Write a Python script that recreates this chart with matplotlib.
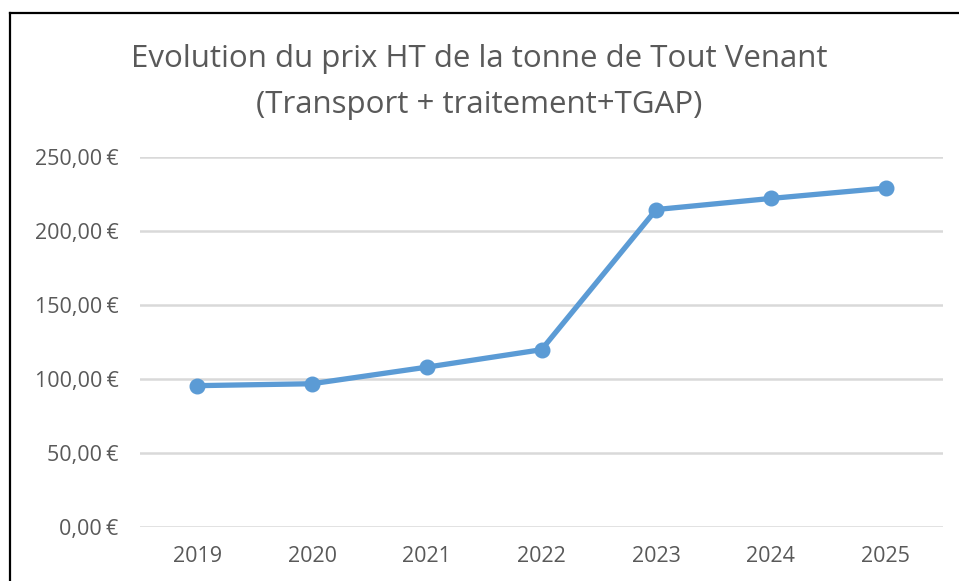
import matplotlib.pyplot as plt
from matplotlib.lines import Line2D
from matplotlib.ticker import FuncFormatter

# data
years = ['2019', '2020', '2021', '2022', '2023', '2024', '2025']
prices = [95.5, 96.8, 108.0, 119.8, 214.5, 222.0, 229.0]
yticks = [0, 50, 100, 150, 200, 250]

grey = '#595959'
blue = '#5B9BD5'

plt.rcParams['font.family'] = ['Open Sans', 'DejaVu Sans']

fig = plt.figure(figsize=(9.59, 5.81), dpi=100)
ax = fig.add_axes([140 / 959, 1 - 527 / 581, 803 / 959, (527 - 157) / 581])

x = list(range(len(years)))
ax.plot(x, prices, color=blue, lw=3.8, marker='o', ms=10.5, solid_capstyle='round', zorder=3)

ax.set_xlim(-0.5, len(years) - 0.5)
ax.set_ylim(0, 250)
ax.set_yticks(yticks)
ax.yaxis.set_major_formatter(FuncFormatter(lambda v, p: f'{v:.2f}'.replace('.', ',') + '\u202f€'))
ax.set_xticks(x)
ax.set_xticklabels(years)
ax.tick_params(length=0, colors=grey, labelsize=15.5)
ax.tick_params(axis='y', pad=15.5)
ax.tick_params(axis='x', pad=14)
ax.grid(axis='y', color='#d9d9d9', lw=1.8)
ax.set_axisbelow(True)
for s in ax.spines.values():
    s.set_visible(False)

fig.text(0.5, 1 - 59 / 581, 'Evolution du prix HT de la tonne de Tout Venant',
         ha='center', va='center', fontsize=22.5, color=grey)
fig.text(0.5, 1 - 105 / 581, '(Transport + traitement+TGAP)',
         ha='center', va='center', fontsize=22.5, color=grey)

# frame of the chart area (top and left edges visible)
fig.add_artist(Line2D([9.5 / 959, 1], [1 - 12.5 / 581, 1 - 12.5 / 581], color='black', lw=1.6))
fig.add_artist(Line2D([9.5 / 959, 9.5 / 959], [0, 1 - 12.5 / 581], color='black', lw=1.6))

fig.savefig('out.png', dpi=100)
